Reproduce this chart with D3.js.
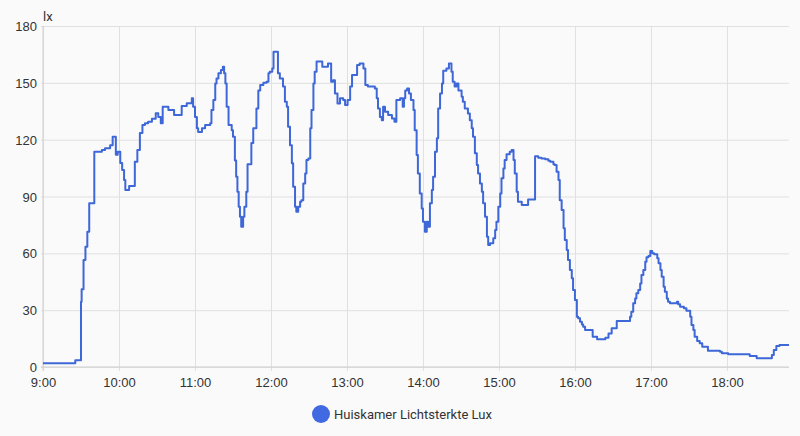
<!DOCTYPE html>
<html><head><meta charset="utf-8">
<script src="https://cdn.jsdelivr.net/npm/d3@7"></script>
<style>
html,body{margin:0;padding:0;background:#fafafa;}
svg{display:block;font-family:Roboto,"Noto Sans",sans-serif;}
</style></head><body>
<svg id="chart" width="800" height="436"></svg>
<script>
const seriesName = "Huiskamer Lichtsterkte Lux";
const unitLabel = "lx";
const times = [
"09:00:00","09:25:30","09:30:00","09:30:30","09:32:00","09:33:30","09:35:00","09:36:30","09:40:30","09:46:30",
"09:49:00","09:53:00","09:55:00","09:57:30","09:59:00","10:01:00","10:02:30","10:04:00","10:05:00","10:08:00",
"10:12:30","10:14:30","10:16:30","10:18:30","10:20:30","10:23:00","10:26:00","10:29:00","10:31:00","10:33:00",
"10:34:30","10:39:00","10:43:30","10:49:30","10:53:30","10:57:30","10:58:30","11:00:00","11:01:30","11:02:30",
"11:05:30","11:08:00","11:12:00","11:13:00","11:14:30","11:16:00","11:17:00","11:18:30","11:20:30","11:22:00",
"11:23:00","11:24:00","11:25:00","11:26:30","11:29:00","11:30:00","11:31:30","11:32:30","11:33:30","11:34:30",
"11:35:30","11:36:30","11:38:00","11:39:00","11:40:30","11:41:30","11:44:30","11:46:00","11:48:30","11:50:00",
"11:51:30","11:54:00","11:56:30","11:58:00","11:59:00","12:01:00","12:02:00","12:05:30","12:07:00","12:09:30",
"12:11:00","12:12:30","12:13:30","12:15:00","12:16:30","12:17:30","12:19:00","12:20:00","12:21:30","12:23:00",
"12:24:00","12:25:30","12:27:00","12:28:00","12:29:30","12:31:00","12:32:00","12:33:30","12:34:30","12:36:00",
"12:40:30","12:45:00","12:47:30","12:49:00","12:50:30","12:52:30","12:54:30","12:57:00","12:58:30","13:00:30",
"13:02:30","13:04:00","13:08:00","13:10:00","13:13:00","13:14:30","13:16:30","13:22:00","13:23:30","13:24:30",
"13:26:00","13:27:30","13:28:30","13:30:00","13:32:30","13:35:30","13:37:30","13:39:00","13:42:00","13:44:00",
"13:45:00","13:46:00","13:47:30","13:49:00","13:50:30","13:52:30","13:53:30","13:55:00","13:56:00","13:57:30",
"13:59:00","14:00:00","14:01:30","14:03:00","14:04:00","14:05:30","14:07:00","14:08:00","14:09:30","14:11:00",
"14:12:00","14:13:30","14:15:00","14:16:00","14:18:30","14:20:30","14:22:30","14:23:30","14:25:00","14:26:30",
"14:28:00","14:30:30","14:31:30","14:33:00","14:35:30","14:37:00","14:38:30","14:39:30","14:41:00","14:42:30",
"14:43:30","14:45:00","14:46:30","14:47:30","14:49:00","14:50:30","14:51:30","14:53:00","14:55:30","14:57:00",
"14:58:00","14:59:30","15:01:00","15:02:00","15:03:30","15:04:30","15:06:00","15:08:30","15:10:00","15:11:30",
"15:12:30","15:14:00","15:15:00","15:18:00","15:23:00","15:28:30","15:31:00","15:33:30","15:36:30","15:39:00",
"15:40:30","15:43:00","15:44:00","15:45:30","15:47:00","15:48:00","15:49:30","15:51:00","15:52:00","15:53:30",
"15:54:30","15:56:00","15:57:30","15:58:30","16:00:00","16:01:30","16:02:30","16:04:00","16:05:30","16:06:30",
"16:08:00","16:14:00","16:17:30","16:24:00","16:26:30","16:29:00","16:33:00","16:43:30","16:44:30","16:46:00",
"16:47:30","16:48:30","16:50:00","16:51:30","16:52:30","16:54:00","16:55:30","16:56:30","16:58:00","16:59:30",
"17:01:00","17:02:30","17:05:00","17:06:00","17:07:30","17:08:30","17:10:00","17:11:00","17:12:30","17:13:30",
"17:15:00","17:20:30","17:21:30","17:23:00","17:26:00","17:28:00","17:31:00","17:32:00","17:33:30","17:34:30",
"17:36:30","17:38:30","17:40:30","17:45:00","17:54:30","17:56:00","18:01:00","18:18:00","18:23:30","18:35:30",
"18:37:00","18:39:00","18:41:30","18:49:00"
];
const lux = [
2,3.5,34.5,41,56.5,63.5,71.4,86.4,113.6,114.5,
115.5,117,121.5,112,113.6,107.7,104,98.7,93.4,95.5,
108.4,114.5,123.5,127.7,128.6,129.5,131,134,132,128.6,
137.4,135.6,133,137.8,139.2,141.8,137.4,132,126,124,
126,127.7,128.6,135.6,141,149.7,152.3,155,156.8,158.5,
155,149.7,137.4,127.7,125,121.5,109,100.4,92.5,84.6,
79.3,74,79.3,84.6,92.5,107,118.2,126,136.5,146,
148.9,150.1,150.6,155,155.9,157.6,166.4,155,152.3,148,
140,137.4,126.8,117,107.5,95.2,84.6,82,84.6,87.2,
88,96.9,102.2,109.3,110,126,135.6,149.7,155.9,161.2,
158.5,160.2,150.6,151.4,144.4,139.1,141.8,141,138.3,141,
148,154.1,159.4,160.2,157.6,148.9,148,147,141.8,136.5,
132,130.3,137.4,134.8,133,131.2,129.5,141,141.8,137.4,
141.8,146,147,144.4,141,135.6,125,111.9,102.2,91.6,
83.7,76.7,71.4,76.7,74,86.4,93.4,100.4,113.6,120.7,
136.5,144.4,149.7,156.4,157.6,160.2,155.9,150.6,148,149.7,
146,142.7,140,136.5,133.8,130.3,126,121.5,112.8,106.6,
102.2,96.9,92.5,86.4,79.3,68.8,64.4,65.3,67.9,72.3,
76.7,84.6,91.6,99.6,104.8,109.3,112.3,113.6,114.5,109.3,
102.2,92.5,87.2,85.5,88.4,111.3,110.4,110,109.6,108.9,
108.4,107,106.6,103.1,98.7,88,82.9,73.2,67,61.8,
56.5,51.2,46.8,40.6,35.4,26.5,25.7,23.9,22.5,21.3,
19.5,16,14.6,15.5,17.7,20.4,24.3,26.5,29.2,33.6,
36.2,38.9,40.6,44.1,48.6,51.2,55.6,57.9,58.6,61.2,
60,59.5,57.4,54.7,51.2,47.7,42.4,39.7,36.2,34.5,
33.6,34.5,33.1,31.8,31,29.7,26.5,22.2,19.5,16,
13.7,12.5,10.7,8.6,8.1,7.2,6.7,5.8,4.6,6.3,
9,11.1,11.6,11.6
];
const yTicks = [0,30,60,90,120,150,180];
const xTicks = ["9:00","10:00","11:00","12:00","13:00","14:00","15:00","16:00","17:00","18:00"];

const W = 800, H = 436;
const margin = {top: 26, right: 11, bottom: 69, left: 43};
const iw = W - margin.left - margin.right;
const ih = H - margin.top - margin.bottom;

const parseT = d3.timeParse("%H:%M:%S");
const parseTick = d3.timeParse("%H:%M");
const data = times.map((t, i) => ({t: parseT(t), v: lux[i]}));
const tickDates = xTicks.map(parseTick);

const x = d3.scaleTime().domain(d3.extent(data, d => d.t)).range([0, iw]);
const y = d3.scaleLinear().domain([0, 180]).range([ih, 0]);

const svg = d3.select("#chart");
svg.append("rect").attr("width", W).attr("height", H).attr("fill", "#fafafa");
const g = svg.append("g").attr("transform", `translate(${margin.left},${margin.top})`);

// horizontal grid
const yAxis = d3.axisLeft(y).tickValues(yTicks).tickSize(-iw).tickPadding(6).tickFormat(d3.format("d"));
const gy = g.append("g").call(yAxis);
gy.select(".domain").remove();
gy.selectAll(".tick line").attr("stroke", "#e0e0e0").attr("x1", -2);
gy.selectAll(".tick text").attr("fill", "#333").attr("font-size", 13).attr("dy", "0.35em");

// vertical grid
const xAxis = d3.axisBottom(x).tickValues(tickDates).tickSize(-ih).tickFormat((d, i) => xTicks[i]);
const gx = g.append("g").attr("transform", `translate(0,${ih})`).call(xAxis);
gx.select(".domain").remove();
gx.selectAll(".tick line").attr("stroke", "#e0e0e0").attr("y1", 4);
gx.selectAll(".tick text").attr("fill", "#333").attr("font-size", 13).attr("y", 11).attr("dy", "0.71em");

// axis lines
g.append("line").attr("x1", 0).attr("x2", 0).attr("y1", 0).attr("y2", ih + 4).attr("stroke", "#cfcfcf");
g.append("line").attr("x1", -2).attr("x2", iw).attr("y1", ih).attr("y2", ih).attr("stroke", "#cfcfcf");

// unit label
g.append("text").attr("x", 0).attr("y", -5).attr("fill", "#333").attr("font-size", 13).text(unitLabel);

// line
const line = d3.line().x(d => x(d.t)).y(d => y(d.v)).curve(d3.curveStepAfter);
g.append("path").datum(data).attr("d", line).attr("fill", "none")
  .attr("stroke", "#3e67d8").attr("stroke-width", 2).attr("stroke-linejoin", "round");

// legend
const lg = svg.append("g").attr("transform", `translate(321,414)`);
lg.append("circle").attr("r", 9).attr("fill", "#4169e1");
lg.append("text").attr("x", 13).attr("y", 0).attr("dy", "0.35em").attr("fill", "#333").attr("font-size", 13).text(seriesName);
</script>
</body></html>
